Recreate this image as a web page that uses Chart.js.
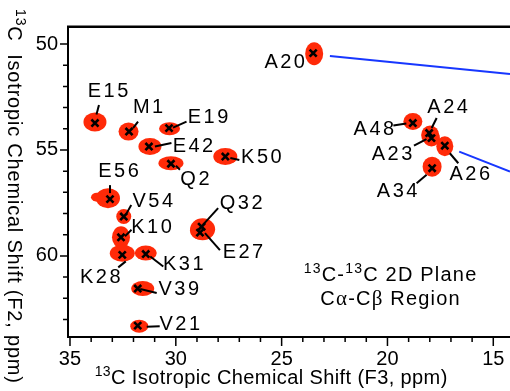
<!DOCTYPE html>
<html>
<head>
<meta charset="utf-8">
<script src="https://cdn.jsdelivr.net/npm/chart.js@4.4.1/dist/chart.umd.min.js"></script>
<style>
  html, body { margin: 0; padding: 0; background: #fff; }
  canvas { display: block; }
</style>
</head>
<body>
<canvas id="plane" width="510" height="391"></canvas>
<script>
// Cα-Cβ cross peaks: residue, F3 shift, F2 shift (ppm)
const peakLabels = ['E15', 'M1', 'E19', 'E42', 'Q2', 'K50', 'E56', 'V54', 'K10', 'K28', 'K31',
                    'V39', 'V21', 'Q32', 'E27', 'A20', 'A48', 'A24', 'A23', 'A26', 'A34'];
const peakF3 = [33.82, 32.21, 30.32, 31.27, 30.23, 27.66, 33.11, 32.46, 32.59, 32.53, 31.42,
                31.80, 31.80, 28.78, 28.86, 23.51, 18.80, 18.03, 17.92, 17.29, 17.89];
const peakF2 = [53.73, 54.13, 53.97, 54.84, 55.65, 55.31, 57.32, 58.14, 59.12, 59.95, 59.91,
                61.54, 63.29, 58.62, 58.90, 50.43, 53.73, 54.20, 54.44, 54.80, 55.86];

// connector lines running off to the next panel
const linkA_F3 = [22.72, 14.21];
const linkA_F2 = [50.56, 51.41];
const linkB_F3 = [16.61, 14.21];
const linkB_F2 = [55.08, 56.02];

// plotted window (ppm)
const F3_MIN = 14.21, F3_MAX = 35.094;
const F2_MIN = 49.197, F2_MAX = 63.826;

const xTickLabels = [35, 30, 25, 20, 15];
const yTickLabels = [50, 55, 60];

const SANS  = "'Liberation Sans', Arial, Helvetica, sans-serif";
const SERIF = "'Liberation Serif', 'Times New Roman', serif";
const RED   = '#ff2a08';

// contour blobs under each peak: [dx, dy, rx, ry] in px from the peak
const blobStyle = {
  E15: [[0, -1, 11.5, 9.5]],
  M1:  [[-0.5, 0, 10, 9]],
  E19: [[0.5, 0.5, 10.5, 6.5]],
  E42: [[1, 0, 11.5, 8.5]],
  Q2:  [[0, -0.5, 12.5, 7]],
  K50: [[0, 0, 12, 8.5]],
  E56: [[-2, -1, 12, 10], [-13, -2, 6, 4.5]],
  V54: [[0, 0, 7.5, 7.5]],
  K10: [[0, 0, 9, 11]],
  K28: [[0, -1.5, 12.5, 8.5]],
  K31: [[0, -1, 11, 7.5]],
  V39: [[5, 0, 11.5, 7.5]],
  V21: [[1.5, 0.5, 9, 6.5]],
  Q32: [[1, 2.5, 12.5, 11]],
  E27: [[0, -2, 10, 9]],
  A20: [[1, 0.5, 9, 11.5]],
  A48: [[0, -1.5, 9.5, 8.5]],
  A24: [[1, 2, 9, 9.5]],
  A23: [[0, 0, 8.5, 8.5]],
  A26: [[0, 0.5, 8.5, 10]],
  A34: [[0, -1.5, 9.5, 10]]
};

// label placement: text centre/baseline offset and leader line, px from the peak
const labelStyle = {
  E15: { at: [13, -26],    lead: [4, -18, 1.5, -8.5] },
  M1:  { at: [19, -19],    lead: [9, -10, 4, -3.5] },
  E19: { at: [39, -5],     lead: [17.5, -6.5, 4, -0.5] },
  E42: { at: [44, 5],      lead: [22.5, -3.5, 6, 0] },
  Q2:  { at: [24, 21],     lead: [5, 2, 9, 6] },
  K50: { at: [36, 6],      lead: [5, 1.5, 14, 3.5] },
  E56: { at: [8.5, -22],   lead: [0, -14, 0, -6] },
  V54: { at: [29, -10],    lead: [7.5, -11.5, 3, -3.5] },
  K10: { at: [30.5, -4],   lead: [10.5, -7.5, 4, -1] },
  K28: { at: [-22, 28],    lead: [-4, 12.5, 3.5, 6.5] },
  K31: { at: [37.5, 16],   lead: [4.5, 2.5, 17.5, 12.5] },
  V39: { at: [41, 6.5],    lead: [2.5, 0.5, 19, 4.5] },
  V21: { at: [42, 4.5],    lead: [9, 1, 22, 0.5] },
  Q32: { at: [39.5, -17.5], lead: [16.5, -18.5, 1.5, -2] },
  E27: { at: [43, 25.5],   lead: [5, 0.5, 20, 17.5] },
  A20: { at: [-28.5, 15] },
  A48: { at: [-39, 11.5],  lead: [-19.5, 2.5, -6.5, 0.5] },
  A24: { at: [18.5, -20.5], lead: [7.5, -15, 2.5, -5] },
  A23: { at: [-39.5, 21.5], lead: [-17.5, 7.5, -5, 1] },
  A26: { at: [25, 34],     lead: [5, 7.5, 13.5, 17.5] },
  A34: { at: [-35, 28.5],  lead: [-15.5, 15, -5.5, 6.5] }
};

const toPoints = (xs, ys) => xs.map((x, i) => ({ x, y: ys[i] }));

// text runs with superscripts / greek, drawn left to right
function richWidth(ctx, runs, spacing) {
  let w = 0;
  runs.forEach(r => {
    ctx.font = r.font;
    w += ctx.measureText(r.t).width + spacing * r.t.length;
  });
  return w - spacing;
}
function drawRich(ctx, runs, x, y, spacing) {
  let cx = x;
  runs.forEach(r => {
    ctx.font = r.font;
    for (const ch of r.t) {
      ctx.fillText(ch, cx, y - (r.rise || 0));
      cx += ctx.measureText(ch).width + spacing;
    }
  });
}

const sup = t => ({ t, font: '14px ' + SANS, rise: 8 });
const txt = t => ({ t, font: '20px ' + SANS });
const grk = t => ({ t, font: '21px ' + SERIF });

// red contours under the peak markers
const blobPlugin = {
  id: 'blobs',
  beforeDatasetsDraw(chart) {
    const meta = chart.getDatasetMeta(2);
    const ctx = chart.ctx;
    ctx.save();
    ctx.fillStyle = RED;
    meta.data.forEach((el, i) => {
      (blobStyle[peakLabels[i]] || []).forEach(([dx, dy, rx, ry]) => {
        ctx.beginPath();
        ctx.ellipse(el.x + dx, el.y + dy, rx, ry, 0, 0, Math.PI * 2);
        ctx.fill();
      });
    });
    ctx.restore();
  }
};

// residue labels with leader lines
const labelPlugin = {
  id: 'peakLabels',
  afterDatasetsDraw(chart) {
    const meta = chart.getDatasetMeta(2);
    const ctx = chart.ctx;
    ctx.save();
    ctx.fillStyle = '#000';
    ctx.strokeStyle = '#000';
    ctx.lineWidth = 2;
    ctx.textBaseline = 'alphabetic';
    ctx.textAlign = 'left';
    meta.data.forEach((el, i) => {
      const st = labelStyle[peakLabels[i]];
      if (!st) return;
      if (st.lead) {
        const [x1, y1, x2, y2] = st.lead;
        ctx.beginPath();
        ctx.moveTo(el.x + x1, el.y + y1);
        ctx.lineTo(el.x + x2, el.y + y2);
        ctx.stroke();
      }
      const runs = [txt(peakLabels[i])];
      const w = richWidth(ctx, runs, 2.5);
      drawRich(ctx, runs, el.x + st.at[0] - w / 2, el.y + st.at[1], 2.5);
    });
    ctx.restore();
  }
};

// tick marks, axis titles and panel caption
const framePlugin = {
  id: 'nmrFrame',
  afterDraw(chart) {
    const { ctx, chartArea: a } = chart;
    const xs = chart.scales.x, ys = chart.scales.y;
    ctx.save();
    ctx.fillStyle = '#000';
    ctx.strokeStyle = '#000';

    // upper edge of the frame
    ctx.beginPath();
    ctx.rect(a.left - 1, a.top - 1.5, a.right - a.left + 1, 2.5);
    ctx.fill();

    ctx.lineWidth = 1.5;
    ctx.beginPath();
    for (let v = 15; v <= 35; v++) {
      const px = xs.getPixelForValue(v);
      ctx.moveTo(px, a.bottom);
      ctx.lineTo(px, a.bottom + (v % 5 === 0 ? 9 : 5));
    }
    for (let v = 50; v <= 63; v++) {
      const py = ys.getPixelForValue(v);
      ctx.moveTo(a.left, py);
      ctx.lineTo(a.left - (v % 5 === 0 ? 8 : 5), py);
    }
    ctx.stroke();

    ctx.textBaseline = 'alphabetic';
    ctx.textAlign = 'left';

    const xTitle = [sup('13'), txt('C Isotropic Chemical Shift (F3, ppm)')];
    const xw = richWidth(ctx, xTitle, 0.4);
    drawRich(ctx, xTitle, 271 - xw / 2, 384, 0.4);

    const yTitle = [sup('13'), txt('C  Isotropic Chemical Shift (F2, ppm)')];
    const yw = richWidth(ctx, yTitle, 0.8);
    ctx.save();
    ctx.translate(8, 196 - yw / 2);
    ctx.rotate(Math.PI / 2);
    drawRich(ctx, yTitle, 0, 0, 0.8);
    ctx.restore();

    const cap1 = [sup('13'), txt('C-'), sup('13'), txt('C 2D Plane')];
    const cap2 = [txt('C'), grk('α'), txt('-C'), grk('β'), txt(' Region')];
    const w1 = richWidth(ctx, cap1, 1.2);
    const w2 = richWidth(ctx, cap2, 1.2);
    drawRich(ctx, cap1, 390 - w1 / 2, 281, 1.2);
    drawRich(ctx, cap2, 390 - w2 / 2, 305, 1.2);

    ctx.restore();
  }
};

// fixed axis boxes so the plot frame sits exactly where it should
const fixBox = (w, h) => s => {
  if (w != null) s.width = w;
  if (h != null) s.height = h;
  s.paddingLeft = s.paddingRight = s.paddingTop = s.paddingBottom = 0;
};

new Chart(document.getElementById('plane'), {
  type: 'scatter',
  data: {
    datasets: [
      {
        type: 'line',
        data: toPoints(linkA_F3, linkA_F2),
        borderColor: '#1737ff',
        borderWidth: 2,
        pointRadius: 0
      },
      {
        type: 'line',
        data: toPoints(linkB_F3, linkB_F2),
        borderColor: '#1737ff',
        borderWidth: 2,
        pointRadius: 0
      },
      {
        data: toPoints(peakF3, peakF2),
        pointStyle: 'crossRot',
        pointRadius: 5,
        pointBorderWidth: 2.6,
        borderColor: '#000',
        backgroundColor: '#000'
      },
      {
        // top edge of the plot frame, along the F2 lower bound
        type: 'line',
        data: toPoints([F3_MAX, F3_MIN], [F2_MIN, F2_MIN]),
        borderColor: '#000',
        borderWidth: 2,
        pointRadius: 0,
        clip: false
      }
    ]
  },
  options: {
    responsive: false,
    animation: false,
    events: [],
    layout: { autoPadding: false, padding: { top: 27, left: 0, right: 0, bottom: 0 } },
    plugins: {
      legend: { display: false },
      tooltip: { enabled: false }
    },
    scales: {
      x: {
        type: 'linear',
        position: 'bottom',
        reverse: true,
        min: F3_MIN,
        max: F3_MAX,
        grid: { display: false, drawTicks: false },
        border: { display: true, color: '#000', width: 2 },
        ticks: {
          autoSkip: false,
          maxRotation: 0,
          padding: 10,
          color: '#000',
          font: { family: SANS, size: 20 }
        },
        afterBuildTicks: s => { s.ticks = xTickLabels.map(value => ({ value })); },
        afterFit: fixBox(null, 54)
      },
      y: {
        type: 'linear',
        reverse: true,
        min: F2_MIN,
        max: F2_MAX,
        grid: { display: false, drawTicks: false },
        border: { display: true, color: '#000', width: 2 },
        ticks: {
          autoSkip: false,
          padding: 10,
          color: '#000',
          font: { family: SANS, size: 20 }
        },
        afterBuildTicks: s => { s.ticks = yTickLabels.map(value => ({ value })); },
        afterFit: fixBox(68, null)
      }
    }
  },
  plugins: [blobPlugin, labelPlugin, framePlugin]
});
</script>
</body>
</html>
